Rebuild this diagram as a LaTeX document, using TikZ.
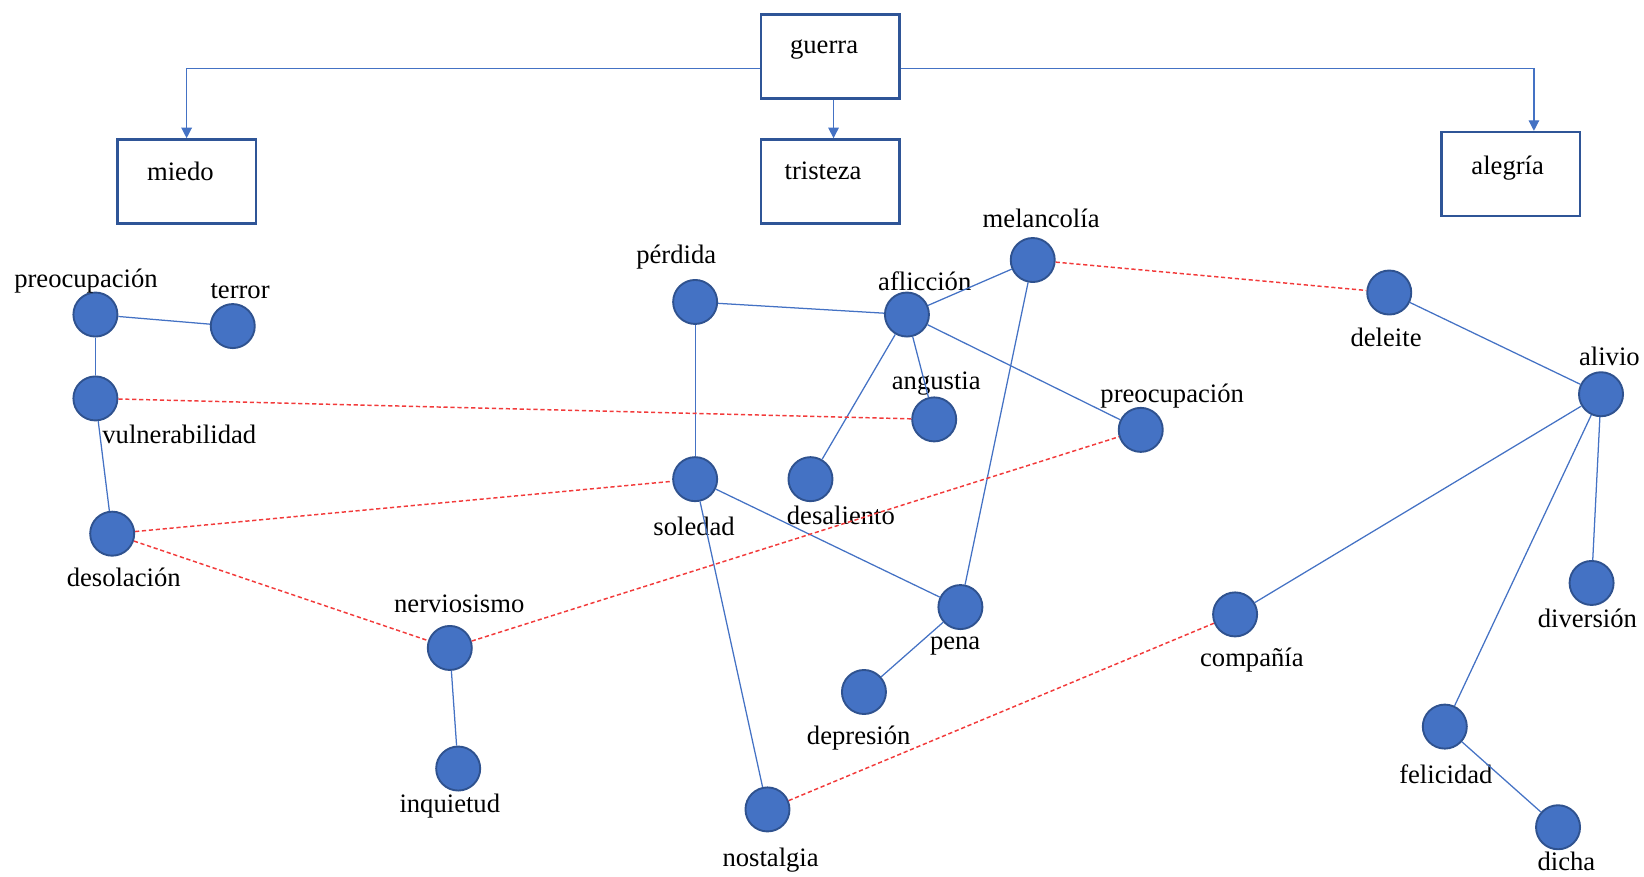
\documentclass[tikz,border=0pt]{standalone}
\usepackage{fontspec}
\setmainfont{Liberation Serif}
\usetikzlibrary{arrows.meta,calc}
\definecolor{nodefill}{HTML}{4472C4}
\definecolor{nodeline}{HTML}{2F528F}
\definecolor{boxline}{HTML}{2F5597}
\definecolor{conncol}{HTML}{4472C4}
\definecolor{dashcol}{HTML}{F23A3A}
\begin{document}
\begin{tikzpicture}[x=0.5pt,y=-0.5pt,
  every node/.style={font=\fontsize{12.7}{15}\selectfont},
  box/.style={draw=boxline,line width=1.2pt,minimum width=66pt,minimum height=40pt,inner sep=0pt},
  boxtxt/.style={inner sep=0pt},
  dot/.style={circle,fill=nodefill,draw=nodeline,line width=0.9pt,minimum size=21pt,inner sep=0pt},
  lbl/.style={inner sep=0pt},
  arr/.style={draw=conncol,line width=0.6pt,-{Triangle[length=5pt,width=5pt]}},
  link/.style={draw=conncol,line width=0.6pt},
  dlink/.style={draw=dashcol,line width=0.7pt,dash pattern=on 2pt off 1.3pt}]
\useasboundingbox (0,0) rectangle (1568,836);
% boxes
\node[box] (guerra) at (792,54) {};
\node[boxtxt] (guerra-t) at (786,47) {guerra};
\node[box] (miedo) at (178,173) {};
\node[boxtxt] (miedo-t) at (172,163) {miedo};
\node[box] (tristeza) at (792,173) {};
\node[boxtxt] (tristeza-t) at (785,163) {tristeza};
\node[box] (alegria) at (1441,166) {};
\node[boxtxt] (alegria-t) at (1438,160) {alegría};
% arrows
\draw[arr] ($(guerra.west)+(0,11)$) -| (miedo.north);
\draw[arr] ($(guerra.south)+(3,0)$) -- ($(tristeza.north)+(3,0)$);
\draw[arr] ($(guerra.east)+(0,11)$) -| ($(alegria.north)+(22,0)$);
% circles
\node[dot] (preoc1) at (91,300) {};
\node[dot] (terror) at (222,311) {};
\node[dot] (vulner) at (91,380) {};
\node[dot] (desol) at (107,509) {};
\node[dot] (nervio) at (429,618) {};
\node[dot] (inquiet) at (437,733) {};
\node[dot] (perdida) at (663,288) {};
\node[dot] (soledad) at (663,457) {};
\node[dot] (aflic) at (865,300) {};
\node[dot] (melanc) at (985,248) {};
\node[dot] (angust) at (891,400) {};
\node[dot] (desal) at (773,457) {};
\node[dot] (preoc2) at (1088,410) {};
\node[dot] (pena) at (916,579) {};
\node[dot] (depres) at (824,660) {};
\node[dot] (nostal) at (732,772) {};
\node[dot] (deleite) at (1325,279) {};
\node[dot] (alivio) at (1527,376) {};
\node[dot] (divers) at (1518,556) {};
\node[dot] (compan) at (1178,586) {};
\node[dot] (felic) at (1378,693) {};
\node[dot] (dicha) at (1486,789) {};
% labels
\node[lbl] (l-preoc1) at (82,268) {preocupación};
\node[lbl] (l-terror) at (229,278) {terror};
\node[lbl] (l-vulner) at (171,414) {vulnerabilidad};
\node[lbl] (l-desol) at (118,551) {desolación};
\node[lbl] (l-nervio) at (438,576) {nerviosismo};
\node[lbl] (l-inquiet) at (429,769) {inquietud};
\node[lbl] (l-perdida) at (645,245) {pérdida};
\node[lbl] (l-soledad) at (662,502) {soledad};
\node[lbl] (l-aflic) at (882,268) {aflicción};
\node[lbl] (l-melanc) at (993,208) {melancolía};
\node[lbl] (l-angust) at (893,366) {angustia};
\node[lbl] (l-desal) at (802,492) {desaliento};
\node[lbl] (l-preoc2) at (1118,378) {preocupación};
\node[lbl] (l-pena) at (911,616) {pena};
\node[lbl] (l-depres) at (819,704) {depresión};
\node[lbl] (l-nostal) at (735,820) {nostalgia};
\node[lbl] (l-deleite) at (1322,322) {deleite};
\node[lbl] (l-alivio) at (1535,340) {alivio};
\node[lbl] (l-divers) at (1514,590) {diversión};
\node[lbl] (l-compan) at (1194,630) {compañía};
\node[lbl] (l-felic) at (1379,738) {felicidad};
\node[lbl] (l-dicha) at (1494,822) {dicha};
% solid links
\draw[link] (preoc1) -- (terror);
\draw[link] (preoc1) -- (vulner);
\draw[link] (vulner) -- (desol);
\draw[link] (nervio) -- (inquiet);
\draw[link] (perdida) -- (aflic);
\draw[link] (perdida) -- (soledad);
\draw[link] (aflic) -- (melanc);
\draw[link] (aflic) -- (angust);
\draw[link] (aflic) -- (desal);
\draw[link] (aflic) -- (preoc2);
\draw[link] (melanc) -- (pena);
\draw[link] (soledad) -- (pena);
\draw[link] (soledad) -- (nostal);
\draw[link] (pena) -- (depres);
\draw[link] (deleite) -- (alivio);
\draw[link] (alivio) -- (compan);
\draw[link] (alivio) -- (felic);
\draw[link] (alivio) -- (divers);
\draw[link] (felic) -- (dicha);
% dashed links
\draw[dlink] (vulner) -- (angust);
\draw[dlink] (desol) -- (soledad);
\draw[dlink] (desol) -- (nervio);
\draw[dlink] (nervio) -- (preoc2);
\draw[dlink] (melanc) -- (deleite);
\draw[dlink] (nostal) -- (compan);
\end{tikzpicture}
\end{document}
